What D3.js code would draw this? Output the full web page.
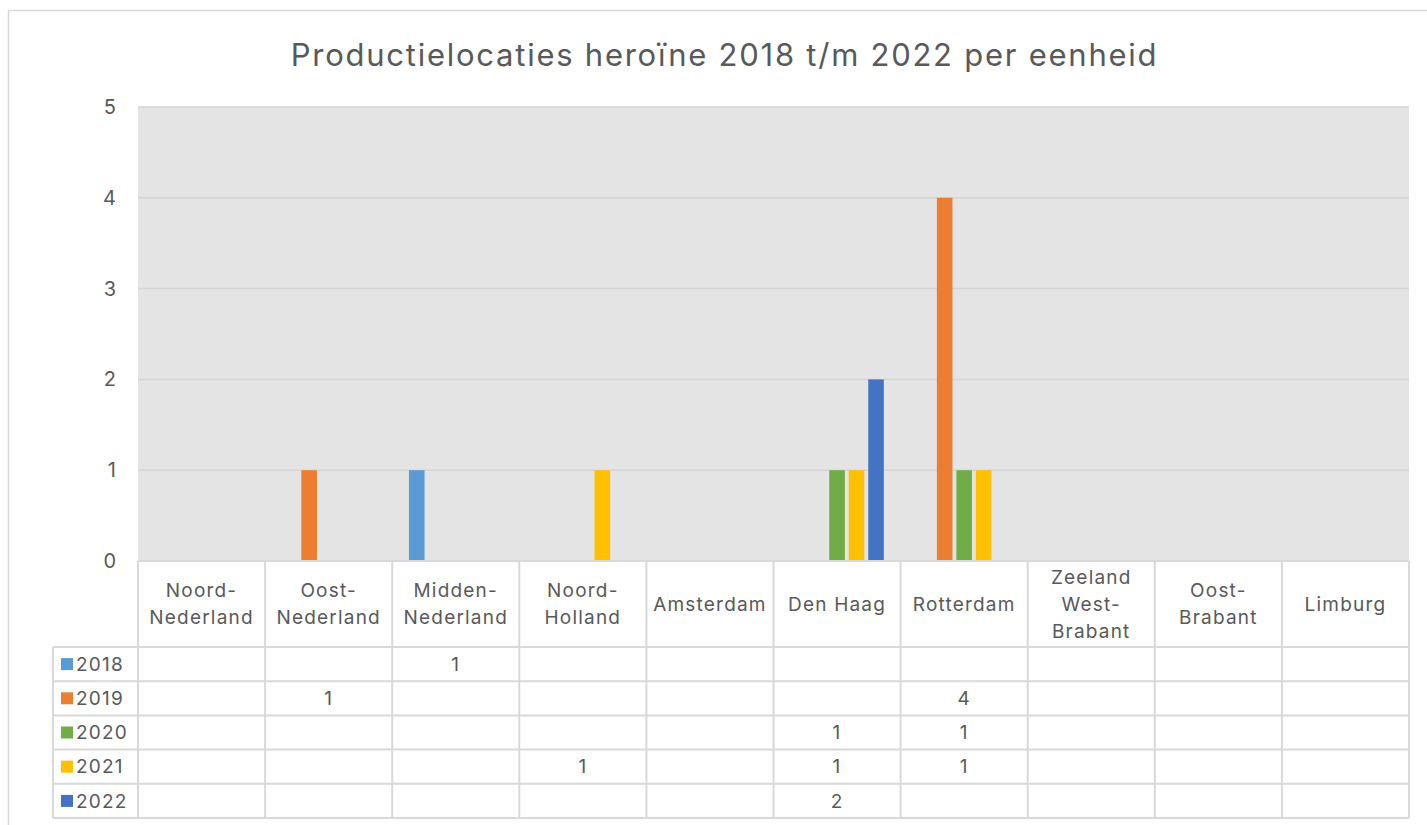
<!DOCTYPE html>
<html><head><meta charset="utf-8">
<script src="https://cdn.jsdelivr.net/npm/d3@7"></script>
<style>html,body{margin:0;padding:0;background:#fff;}svg{display:block;}</style>
</head><body>
<script>
const categories = ["Noord-\nNederland","Oost-\nNederland","Midden-\nNederland","Noord-\nHolland","Amsterdam","Den Haag","Rotterdam","Zeeland\nWest-\nBrabant","Oost-\nBrabant","Limburg"];
const years = ["2018","2019","2020","2021","2022"];
const colors = ["#5B9BD5","#ED7D31","#70AD47","#FFC000","#4472C4"];
const v2018 = [null,null,1,null,null,null,null,null,null,null];
const v2019 = [null,1,null,null,null,null,4,null,null,null];
const v2020 = [null,null,null,null,null,1,1,null,null,null];
const v2021 = [null,null,null,1,null,1,1,null,null,null];
const v2022 = [null,null,null,null,null,2,null,null,null,null];
const series = [v2018,v2019,v2020,v2021,v2022];
const yTicks = [0,1,2,3,4,5];
const title = "Productielocaties heroïne 2018 t/m 2022 per eenheid";

const W=1427,H=825;
const font = "Inter, 'Noto Sans', sans-serif";
const txt = "#595959", gridC="#D4D4D4", lineC="#D9D9D9";
const svg = d3.select("body").append("svg").attr("width",W).attr("height",H);

svg.append("rect").attr("x",8.5).attr("y",10.5).attr("width",W).attr("height",H)
  .attr("fill","#fff").attr("stroke",lineC).attr("stroke-width",1.5);

const pLeft=138,pRight=1409,pTop=107,pZero=561;
const x = d3.scaleBand().domain(d3.range(categories.length)).range([pLeft,pRight]).padding(0);
const xi = d3.scaleBand().domain(years).range([0,x.bandwidth()]).paddingInner(0.2).paddingOuter(0.86);
const y = d3.scaleLinear().domain([0,5]).range([pZero,pTop]);

svg.append("rect").attr("x",pLeft).attr("y",pTop).attr("width",pRight-pLeft).attr("height",pZero-pTop).attr("fill","#E4E4E4");

svg.append("g").selectAll("line").data(yTicks).join("line")
  .attr("x1",pLeft).attr("x2",pRight).attr("y1",d=>y(d)).attr("y2",d=>y(d))
  .attr("stroke",gridC).attr("stroke-width",1.5);

const yAxis = d3.axisLeft(y).tickValues(yTicks).tickFormat(d3.format("d")).tickSize(0).tickPadding(21);
const ya = svg.append("g").attr("transform",`translate(${pLeft},0)`).call(yAxis);
ya.select(".domain").remove();
ya.selectAll("text").attr("fill",txt).style("font-family",font).style("font-size","20px").style("letter-spacing","1px");

series.forEach((s,si)=>{
  svg.append("g").selectAll("rect").data(s.map((v,i)=>({v,i})).filter(d=>d.v!=null)).join("rect")
    .attr("x",d=>x(d.i)+xi(years[si]))
    .attr("width",xi.bandwidth())
    .attr("y",d=>y(d.v)).attr("height",d=>pZero-y(d.v))
    .attr("fill",colors[si]);
});

const headerBottom=647, rowH=34.2;
const rowY = i=>headerBottom+i*rowH;
const tableBottom = rowY(years.length);
const tg = svg.append("g");
tg.append("line").attr("x1",pLeft).attr("x2",pRight).attr("y1",pZero).attr("y2",pZero).attr("stroke",lineC).attr("stroke-width",2);
d3.range(years.length+1).forEach(i=>{
  tg.append("line").attr("x1",53).attr("x2",pRight).attr("y1",rowY(i)).attr("y2",rowY(i)).attr("stroke",lineC).attr("stroke-width",2);
});
d3.range(categories.length+1).forEach(i=>{
  const xx = i<categories.length ? x(i) : pRight;
  tg.append("line").attr("x1",xx).attr("x2",xx).attr("y1",pZero).attr("y2",tableBottom).attr("stroke",lineC).attr("stroke-width",2);
});
tg.append("line").attr("x1",53).attr("x2",53).attr("y1",headerBottom).attr("y2",tableBottom).attr("stroke",lineC).attr("stroke-width",2);

const tFont = {"font-family":font,"font-size":"19px","letter-spacing":"1.2px"};
function st(sel){ Object.entries(tFont).forEach(([k,v])=>sel.style(k,v)); return sel; }

categories.forEach((c,i)=>{
  const lines=c.split("\n");
  const cx=x(i)+x.bandwidth()/2, cy=(pZero+headerBottom)/2;
  const lh=27;
  const t=st(tg.append("text").attr("text-anchor","middle").attr("fill",txt));
  lines.forEach((l,k)=>{
    t.append("tspan").attr("x",cx).attr("y",cy+(k-(lines.length-1)/2)*lh).attr("dy","0.35em").text(l);
  });
});
years.forEach((yr,si)=>{
  const cy=rowY(si)+rowH/2;
  tg.append("rect").attr("x",61).attr("y",cy-6).attr("width",12).attr("height",12).attr("fill",colors[si]);
  st(tg.append("text").attr("x",76).attr("y",cy).attr("dy","0.35em").attr("fill",txt)).text(yr);
  series[si].forEach((v,i)=>{
    if(v==null) return;
    st(tg.append("text").attr("x",x(i)+x.bandwidth()/2).attr("y",cy).attr("dy","0.35em")
      .attr("text-anchor","middle").attr("fill",txt)).text(v);
  });
});

svg.append("text").attr("x",724.5).attr("y",55).attr("dy","0.35em").attr("text-anchor","middle")
  .attr("fill",txt).style("font-family",font).style("font-size","31px").style("letter-spacing","1.75px").text(title);
</script>
</body></html>
